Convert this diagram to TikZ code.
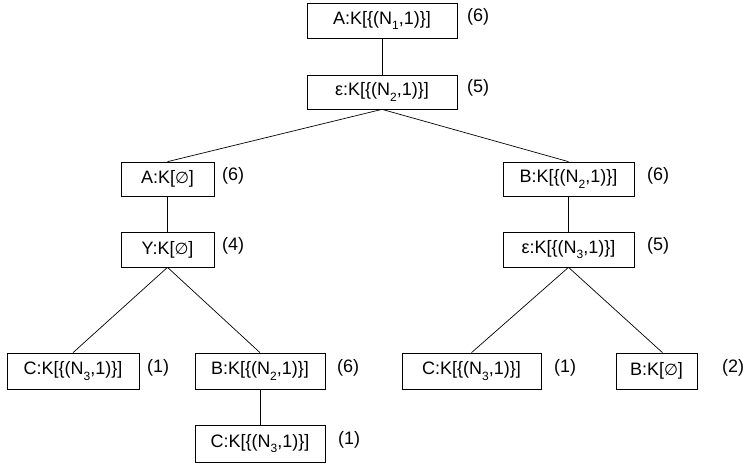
\documentclass[tikz,border=0pt]{standalone}
\usepackage{fontspec}
\setmainfont{Liberation Sans}
\newfontfamily\symfont{DejaVu Sans}
\newcommand{\subn}[1]{\raisebox{-0.32em}{\fontsize{12}{12}\selectfont #1}}
\newcommand{\emptyg}{{\symfont\fontsize{16}{18}\selectfont ∅}}
\begin{document}
\begin{tikzpicture}[x=1pt,y=-1pt,
  box/.style={draw, line width=0.7pt, inner sep=0pt, font=\fontsize{18}{20}\selectfont},
  lab/.style={inner sep=0pt, anchor=west, font=\fontsize{18}{20}\selectfont},
  edge/.style={line width=0.7pt}]
\useasboundingbox (0,0) rectangle (746,463);
\node[box, minimum width=150pt, minimum height=35pt] (n1) at (382,20.5) {A:K[\{(N\subn{1},1)\}]};
\node[box, minimum width=150pt, minimum height=34pt] (n2) at (382,92) {ε:K[\{(N\subn{2},1)\}]};
\node[box, minimum width=93pt, minimum height=34pt] (a) at (167.5,179) {A:K[\emptyg]};
\node[box, minimum width=93pt, minimum height=35pt] (y) at (167.5,249.5) {Y:K[\emptyg]};
\node[box, minimum width=131pt, minimum height=34pt] (b) at (568.5,179) {B:K[\{(N\subn{2},1)\}]};
\node[box, minimum width=131pt, minimum height=35pt] (e) at (568.5,249.5) {ε:K[\{(N\subn{3},1)\}]};
\node[box, minimum width=132pt, minimum height=36pt] (c1) at (73,371) {C:K[\{(N\subn{3},1)\}]};
\node[box, minimum width=130pt, minimum height=36pt] (b2) at (260,371) {B:K[\{(N\subn{2},1)\}]};
\node[box, minimum width=130pt, minimum height=37pt] (c2) at (260,443.5) {C:K[\{(N\subn{3},1)\}]};
\node[box, minimum width=139pt, minimum height=36pt] (c3) at (471.5,371) {C:K[\{(N\subn{3},1)\}]};
\node[box, minimum width=81pt, minimum height=36pt] (b3) at (656.5,371) {B:K[\emptyg]};
\node[lab] (l1) at (467,17) {(6)};
\node[lab] (l2) at (467,88) {(5)};
\node[lab] (la) at (222,176) {(6)};
\node[lab] (ly) at (222,246) {(4)};
\node[lab] (lb) at (647,176) {(6)};
\node[lab] (le) at (647,246) {(5)};
\node[lab] (lc1) at (147,368) {(1)};
\node[lab] (lb2) at (337,368) {(6)};
\node[lab] (lc2) at (338,440) {(1)};
\node[lab] (lc3) at (554,368) {(1)};
\node[lab] (lb3) at (722,368) {(2)};
\draw[edge] (n1.south) -- (n2.north);
\draw[edge] (n2.south) -- (a.north);
\draw[edge] (n2.south) -- (b.north);
\draw[edge] (a.south) -- (y.north);
\draw[edge] (b.south) -- (e.north);
\draw[edge] (y.south) -- (c1.north);
\draw[edge] (y.south) -- (b2.north);
\draw[edge] (b2.south) -- (c2.north);
\draw[edge] (e.south) -- (c3.north);
\draw[edge] (e.south) -- ([xshift=6pt]b3.north);
\end{tikzpicture}
\end{document}
